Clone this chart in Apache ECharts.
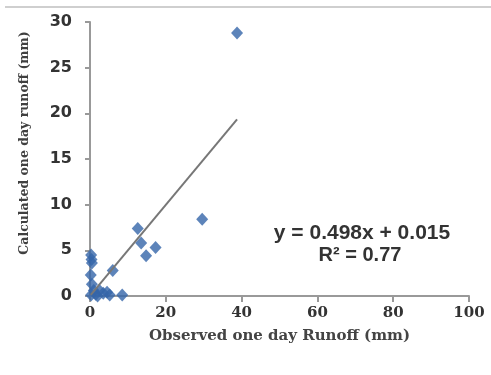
<!DOCTYPE html>
<html><head><meta charset="utf-8">
<script src="https://cdn.jsdelivr.net/npm/echarts@6/dist/echarts.min.js"></script>
<style>html,body{margin:0;padding:0;background:#fff}#c{width:491px;height:375px}</style>
</head><body><div id="c"></div>
<script>
const observed = [38.8, 29.6, 12.6, 13.5, 17.3, 14.8, 6.0, 8.5, 0.3, 0.4, 0.5, 0.2, 0.5, 1.0, 0.3, 1.5, 2.5, 3.5, 4.5, 5.2, 2.0];
const calculated = [28.8, 8.4, 7.4, 5.8, 5.3, 4.4, 2.8, 0.1, 4.5, 4.0, 3.6, 2.3, 1.3, 0.6, 0.1, 0.2, 0.6, 0.3, 0.4, 0.1, 0.0];
const slope = 0.498, intercept = 0.015;
const xTicks = [0, 20, 40, 60, 80, 100];
const yTicks = [0, 5, 10, 15, 20, 25, 30];

const pts = observed.map((x, i) => [x, calculated[i]]);
const xmin = Math.min(...observed), xmax = Math.max(...observed);
const trend = [[xmin, slope * xmin + intercept], [xmax, slope * xmax + intercept]];

const chart = echarts.init(document.getElementById('c'));
chart.setOption({
  animation: false,
  grid: {left: 90, right: 22, top: 22, bottom: 79},
  xAxis: {
    type: 'value', min: xTicks[0], max: xTicks[xTicks.length - 1], interval: 20,
    name: 'Observed one day Runoff (mm)', nameLocation: 'middle', nameGap: 33,
    nameTextStyle: {fontFamily: 'DejaVu Serif', fontWeight: 'bold', fontSize: 15, color: '#444'},
    axisLine: {lineStyle: {color: '#999', width: 2}},
    axisTick: {show: true, inside: false, length: 6, lineStyle: {color: '#999', width: 2}},
    axisLabel: {margin: 10, fontFamily: 'DejaVu Serif', fontWeight: 'bold', fontSize: 15, color: '#333'},
    splitLine: {show: false}
  },
  yAxis: {
    type: 'value', min: yTicks[0], max: yTicks[yTicks.length - 1], interval: 5,
    axisLine: {show: true, lineStyle: {color: '#999', width: 2}},
    axisTick: {show: true, inside: false, length: 5, lineStyle: {color: '#999', width: 2}},
    axisLabel: {margin: 18, fontFamily: 'DejaVu Sans', fontWeight: 'bold', fontSize: 16, color: '#333'},
    splitLine: {show: false}
  },
  series: [
    {type: 'line', data: trend, symbol: 'none', lineStyle: {color: '#777', width: 2}, z: 3},
    {type: 'scatter', data: pts, symbol: 'diamond', symbolSize: [12, 13], itemStyle: {color: '#3465a9'}, z: 2}
  ],
  graphic: [
    {type: 'rect', shape: {x: 5, y: 6, width: 486, height: 2}, style: {fill: '#cfcfcf'}},
    {type: 'text', x: 25, y: 143, rotation: Math.PI / 2, style: {text: 'Calculated one day runoff (mm)', font: 'bold 12.5px "DejaVu Serif"', fill: '#404040', textAlign: 'center', textVerticalAlign: 'middle'}},
    {type: 'text', x: 362, y: 233, style: {text: 'y = 0.498x + 0.015', font: 'bold 21px "Liberation Sans"', fill: '#333', textAlign: 'center', textVerticalAlign: 'middle'}},
    {type: 'text', x: 360, y: 255, style: {text: 'R² = 0.77', font: 'bold 20px "Liberation Sans"', fill: '#333', textAlign: 'center', textVerticalAlign: 'middle'}}
  ]
});
</script></body></html>
